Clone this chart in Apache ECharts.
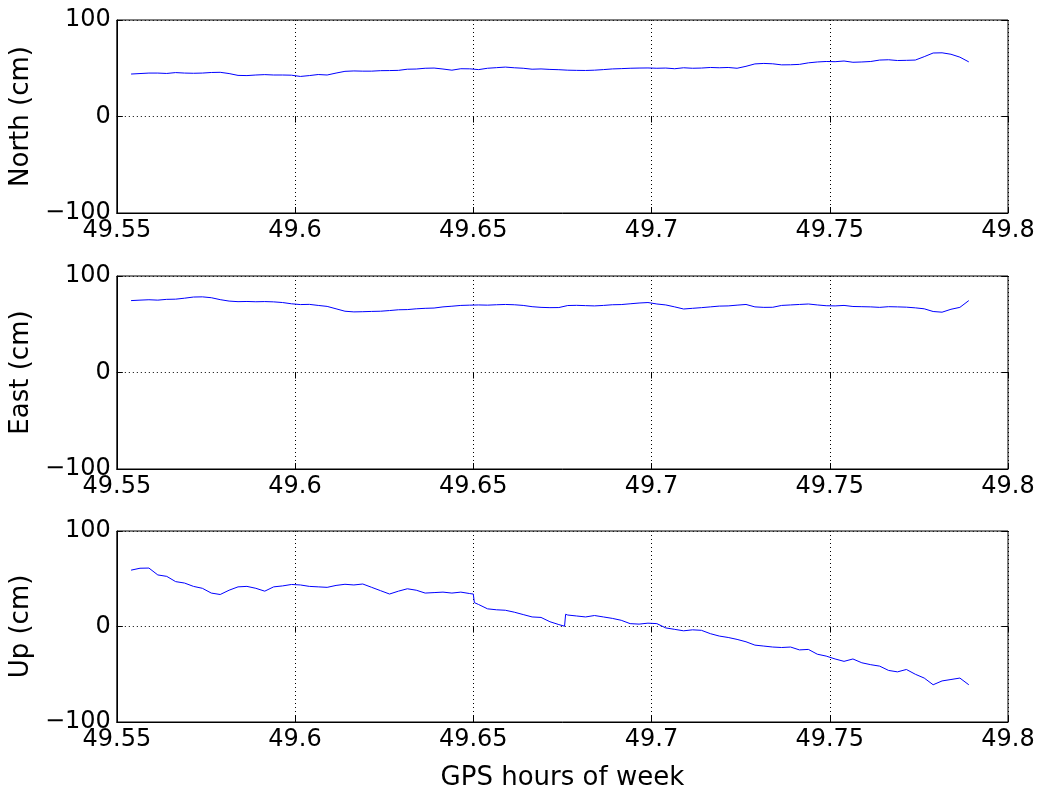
<!DOCTYPE html>
<html>
<head>
<meta charset="utf-8">
<script src="https://cdn.jsdelivr.net/npm/echarts@6/dist/echarts.min.js"></script>
<style>
  html, body { margin: 0; padding: 0; background: #fff; }
  #chart { width: 1042px; height: 792px; }
</style>
</head>
<body>
<div id="chart"></div>
<script>
// GPS hours of week at each sample (North / East share the same epochs)
const timesNE = [49.554, 49.5565, 49.559, 49.5615, 49.564, 49.5665, 49.569, 49.5715, 49.574, 49.5765,
  49.579, 49.5815, 49.584, 49.5865, 49.589, 49.5915, 49.594, 49.5965, 49.599, 49.6015,
  49.604, 49.6065, 49.609, 49.6115, 49.614, 49.6165, 49.619, 49.6215, 49.624, 49.6265,
  49.629, 49.6315, 49.634, 49.6365, 49.639, 49.6415, 49.644, 49.6465, 49.649, 49.6515,
  49.654, 49.6565, 49.659, 49.6615, 49.664, 49.6665, 49.669, 49.6715, 49.674, 49.6765,
  49.679, 49.6815, 49.684, 49.6865, 49.689, 49.6915, 49.694, 49.6965, 49.699, 49.7015,
  49.704, 49.7065, 49.709, 49.7115, 49.714, 49.7165, 49.719, 49.7215, 49.724, 49.7265,
  49.729, 49.7315, 49.734, 49.7365, 49.739, 49.7415, 49.744, 49.7465, 49.749, 49.7515,
  49.754, 49.7565, 49.759, 49.7615, 49.764, 49.7665, 49.769, 49.7715, 49.774, 49.7765,
  49.779, 49.7815, 49.784, 49.7865, 49.789];

// North offset (cm)
const north = [44, 44.5, 45, 45, 44.6, 45.5, 45, 44.8, 45, 45.6,
  45.8, 44.5, 42.6, 42.4, 43, 43.4, 43, 43, 42.8, 41.5,
  42.4, 43.5, 43, 45, 46.8, 47.2, 47, 47, 47.5, 47.6,
  47.8, 49, 49.2, 50, 50.2, 49.2, 48, 49.5, 49.4, 48.6,
  50, 50.6, 51.2, 50.5, 50, 49, 49.3, 48.8, 48.5, 48,
  47.8, 47.7, 48, 48.6, 49.3, 49.6, 50, 50.2, 50.3, 50,
  50.2, 49.5, 50.5, 50, 50.2, 50.8, 50.5, 50.8, 50, 52,
  54.5, 55, 54.6, 53.5, 53.6, 54, 55.6, 56.5, 57, 56.8,
  57.5, 56.2, 56.5, 57, 58.5, 58.8, 58, 58.2, 58.5, 62,
  65.8, 66, 64.5, 61.5, 56.6];

// East offset (cm)
const east = [74.5, 75, 75.4, 75, 75.8, 76, 77, 78.2, 78.4, 77.5,
  75.5, 74, 73.4, 73.6, 73.3, 73.5, 73.2, 72.5, 71.2, 70.4,
  70.6, 69.5, 68.5, 66, 63.5, 62.8, 63, 63.3, 63.5, 64.2,
  65, 65.2, 66, 66.5, 66.8, 68, 68.7, 69.5, 69.8, 70,
  69.8, 70.2, 70.5, 70.2, 69.5, 68.2, 67.5, 67.2, 67.3, 69.4,
  69.6, 69.3, 69, 69.5, 70.2, 70.4, 71.2, 72, 72.5, 71,
  70, 68, 65.8, 66.5, 67.2, 68, 68.8, 69, 69.8, 70.5,
  68, 67.5, 67.6, 69.5, 70, 70.5, 71, 70, 69.2, 69,
  69.5, 68.4, 68.2, 68, 67.5, 68.2, 68, 67.7, 67, 66,
  63.2, 62.5, 65.5, 67.5, 74.5];

// Up epochs include the two step changes near 49.65 and 49.676
const timesUp = [49.554, 49.5565, 49.559, 49.5615, 49.564, 49.5665, 49.569, 49.5715, 49.574, 49.5765,
  49.579, 49.5815, 49.584, 49.5865, 49.589, 49.5915, 49.594, 49.5965, 49.599, 49.6015,
  49.604, 49.6065, 49.609, 49.6115, 49.614, 49.6165, 49.619, 49.6215, 49.624, 49.6265,
  49.629, 49.6315, 49.634, 49.6365, 49.639, 49.6415, 49.644, 49.6465, 49.649, 49.6500,
  49.6503, 49.6515, 49.654, 49.6565, 49.659, 49.6615, 49.664, 49.6665, 49.669, 49.6715,
  49.674, 49.6756, 49.6759, 49.6765, 49.679, 49.6815, 49.684, 49.6865, 49.689, 49.6915,
  49.694, 49.6965, 49.699, 49.7015, 49.704, 49.7065, 49.709, 49.7115, 49.714, 49.7165,
  49.719, 49.7215, 49.724, 49.7265, 49.729, 49.7315, 49.734, 49.7365, 49.739, 49.7415,
  49.744, 49.7465, 49.749, 49.7515, 49.754, 49.7565, 49.759, 49.7615, 49.764, 49.7665,
  49.769, 49.7715, 49.774, 49.7765, 49.779, 49.7815, 49.784, 49.7865, 49.789];

// Up offset (cm)
const up = [59, 61, 61.2, 54, 52.5, 47, 45.5, 42, 40, 35,
  33.5, 38, 41.5, 42, 40, 37, 41.5, 42.5, 44, 43.5,
  42, 41.5, 41, 43, 44.2, 43.5, 44.5, 41, 37.5, 34,
  37, 39.5, 38, 35, 35.5, 36, 35, 36, 34.5, 34,
  25, 23, 18.5, 17.5, 17, 15, 12.5, 10, 9.5, 5,
  2, 0.3, 12.8, 12, 11, 10, 11.5, 10, 8.5, 6.5,
  3, 2.5, 3.5, 3, -1.5, -3, -4.5, -3.5, -4, -7.5,
  -10, -11.5, -13.5, -16, -19.5, -20.5, -21.5, -22, -21.5, -24.5,
  -24, -29, -31, -34, -36.5, -34, -38, -40, -41.5, -46,
  -47.5, -45, -50, -54, -61, -57, -55.5, -54, -61];

const xTicks = { min: 49.55, max: 49.8, interval: 0.05 };
const yTicks = { min: -100, max: 100, interval: 100 };
const panelNames = ['North (cm)', 'East (cm)', 'Up (cm)'];

const FONT = '"DejaVu Sans", Verdana, sans-serif';
const FS = 24;       // tick labels
const FS_NAME = 26;  // axis titles
const gridTops = [20, 276, 531];
const gridHeight = 193;

function fmtX(v) { return String(Number(v.toFixed(2))); }
function fmtY(v) { return v < 0 ? '\u2212' + Math.abs(v) : String(v); }

const grids = [], xAxes = [], yAxes = [], series = [];
const panels = [
  { t: timesNE, v: north },
  { t: timesNE, v: east },
  { t: timesUp, v: up }
];

const tick = { show: true, inside: true, length: 6, lineStyle: { color: '#000' } };
const dotted = { show: true, lineStyle: { color: '#000', type: [1, 3], width: 1 } };

panels.forEach((p, k) => {
  grids.push({ left: 116, right: 34, top: gridTops[k], height: gridHeight,
    show: true, borderColor: '#000', borderWidth: 1, backgroundColor: '#fff' });
  const last = k === 2;
  // bottom x axis with labels and dotted grid
  xAxes.push({
    type: 'value', gridIndex: k, position: 'bottom', ...xTicks,
    axisLine: { show: true, onZero: false, lineStyle: { color: '#000', width: 1 } },
    axisTick: tick,
    axisLabel: { show: true, formatter: fmtX, margin: 6, color: '#000',
      fontFamily: FONT, fontSize: FS, showMinLabel: true, showMaxLabel: true },
    splitLine: dotted,
    name: last ? 'GPS hours of week' : '',
    nameLocation: 'middle', nameGap: 43,
    nameTextStyle: { color: '#000', fontFamily: FONT, fontSize: FS_NAME }
  });
  // top x axis: tick marks only
  xAxes.push({
    type: 'value', gridIndex: k, position: 'top', ...xTicks,
    axisLine: { show: false }, axisTick: tick,
    axisLabel: { show: false }, splitLine: { show: false }
  });
  yAxes.push({
    type: 'value', gridIndex: k, position: 'left', ...yTicks,
    axisLine: { show: true, onZero: false, lineStyle: { color: '#000', width: 1 } },
    axisTick: tick,
    axisLabel: { show: true, formatter: fmtY, margin: 6, color: '#000',
      fontFamily: FONT, fontSize: FS },
    splitLine: dotted,
    name: panelNames[k], nameLocation: 'middle', nameGap: 61, nameRotate: 90,
    nameTextStyle: { color: '#000', fontFamily: FONT, fontSize: FS_NAME }
  });
  // right y axis: tick marks only
  yAxes.push({
    type: 'value', gridIndex: k, position: 'right', ...yTicks,
    axisLine: { show: false }, axisTick: tick,
    axisLabel: { show: false }, splitLine: { show: false }
  });
  series.push({
    type: 'line', xAxisIndex: 2 * k, yAxisIndex: 2 * k,
    data: p.t.map((t, i) => [t, p.v[i]]),
    showSymbol: false, symbol: 'none', animation: false,
    lineStyle: { color: '#0000ff', width: 1 }
  });
});

const chart = echarts.init(document.getElementById('chart'), null, { renderer: 'canvas' });
chart.setOption({
  animation: false,
  backgroundColor: '#fff',
  grid: grids, xAxis: xAxes, yAxis: yAxes, series: series
});
</script>
</body>
</html>
